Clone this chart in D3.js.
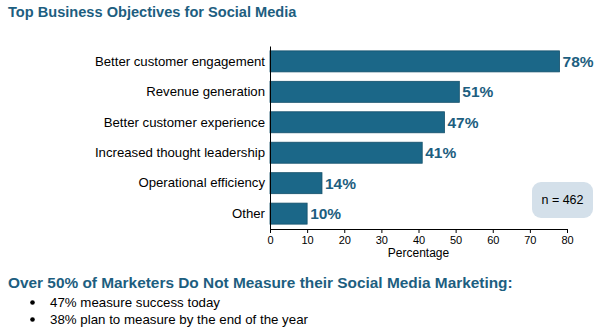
<!DOCTYPE html>
<html>
<head>
<meta charset="utf-8">
<script src="https://cdn.jsdelivr.net/npm/d3@7"></script>
<style>
  body { margin: 0; background: #fff; }
  svg { font-family: "Liberation Sans", Arial, sans-serif; display: block; }
</style>
</head>
<body>
<svg id="chart" width="600" height="336"></svg>
<script>
const categories = [
  'Better customer engagement',
  'Revenue generation',
  'Better customer experience',
  'Increased thought leadership',
  'Operational efficiency',
  'Other'
];
const values = [78, 51, 47, 41, 14, 10];
const xTicks = [0, 10, 20, 30, 40, 50, 60, 70, 80];
const bullets = [
  '47% measure success today',
  '38% plan to measure by the end of the year'
];

const svg = d3.select('#chart');
const margin = { top: 46, left: 270, right: 33, bottom: 107 };
const width = 600 - margin.left - margin.right;
const height = 336 - margin.top - margin.bottom;

// Title
svg.append('text')
  .attr('x', 8).attr('y', 17)
  .attr('fill', '#1d5e80')
  .style('font-size', '14.6px').style('font-weight', 'bold')
  .text('Top Business Objectives for Social Media');

const chart = svg.append('g')
  .attr('transform', `translate(${margin.left},${margin.top})`);

const xScale = d3.scaleLinear().domain([0, 80]).range([0, width]);
const yScale = d3.scaleBand().domain(categories).range([0, height])
  .paddingInner(0.31).paddingOuter(0.16);

// Bars
chart.selectAll('rect.bar')
  .data(values)
  .join('rect')
  .attr('class', 'bar')
  .attr('x', 0)
  .attr('y', (d, i) => yScale(categories[i]))
  .attr('width', d => xScale(d))
  .attr('height', yScale.bandwidth())
  .attr('fill', '#1b6788')
  .attr('stroke', '#14506b')
  .attr('stroke-width', 0.8);

// Value labels
chart.selectAll('text.val')
  .data(values)
  .join('text')
  .attr('class', 'val')
  .attr('x', d => xScale(d) + 3)
  .attr('y', (d, i) => yScale(categories[i]) + yScale.bandwidth() / 2)
  .attr('dy', '0.36em')
  .attr('fill', '#1d5e80')
  .style('font-size', '15.5px').style('font-weight', 'bold')
  .text(d => d + '%');

// Axes
const xAxis = d3.axisBottom(xScale).tickValues(xTicks).tickSize(4).tickSizeOuter(0).tickPadding(3);
const xAxisG = chart.append('g')
  .attr('transform', `translate(0,${height})`)
  .call(xAxis);
xAxisG.selectAll('text').style('font-size', '11px').attr('fill', '#000');
xAxisG.select('.domain').attr('stroke', '#000');

const yAxis = d3.axisLeft(yScale).tickSize(0).tickPadding(5);
const yAxisG = chart.append('g').call(yAxis);
yAxisG.select('.domain').attr('stroke', '#000');
yAxisG.selectAll('text').style('font-size', '13.2px').attr('fill', '#000');

chart.append('text')
  .attr('x', xScale(40)).attr('y', height + 28)
  .attr('text-anchor', 'middle')
  .style('font-size', '12px')
  .text('Percentage');

// n box
const nBox = svg.append('g').attr('transform', 'translate(532,182)');
nBox.append('rect')
  .attr('width', 61).attr('height', 36).attr('rx', 9)
  .attr('fill', '#d4e0ea');
nBox.append('text')
  .attr('x', 30.5).attr('y', 18).attr('dy', '0.35em')
  .attr('text-anchor', 'middle')
  .style('font-size', '12.5px')
  .text('n = 462');

// Footer
svg.append('text')
  .attr('x', 8).attr('y', 288)
  .attr('fill', '#1d5e80')
  .style('font-size', '15.4px').style('font-weight', 'bold')
  .text('Over 50% of Marketers Do Not Measure their Social Media Marketing:');

const bl = svg.selectAll('g.bullet')
  .data(bullets)
  .join('g')
  .attr('class', 'bullet')
  .attr('transform', (d, i) => `translate(0,${307 + i * 17})`);
bl.append('circle').attr('cx', 32.5).attr('cy', -4.5).attr('r', 2.3).attr('fill', '#000');
bl.append('text')
  .attr('x', 50).attr('y', 0)
  .style('font-size', '13.3px')
  .text(d => d);
</script>
</body>
</html>
